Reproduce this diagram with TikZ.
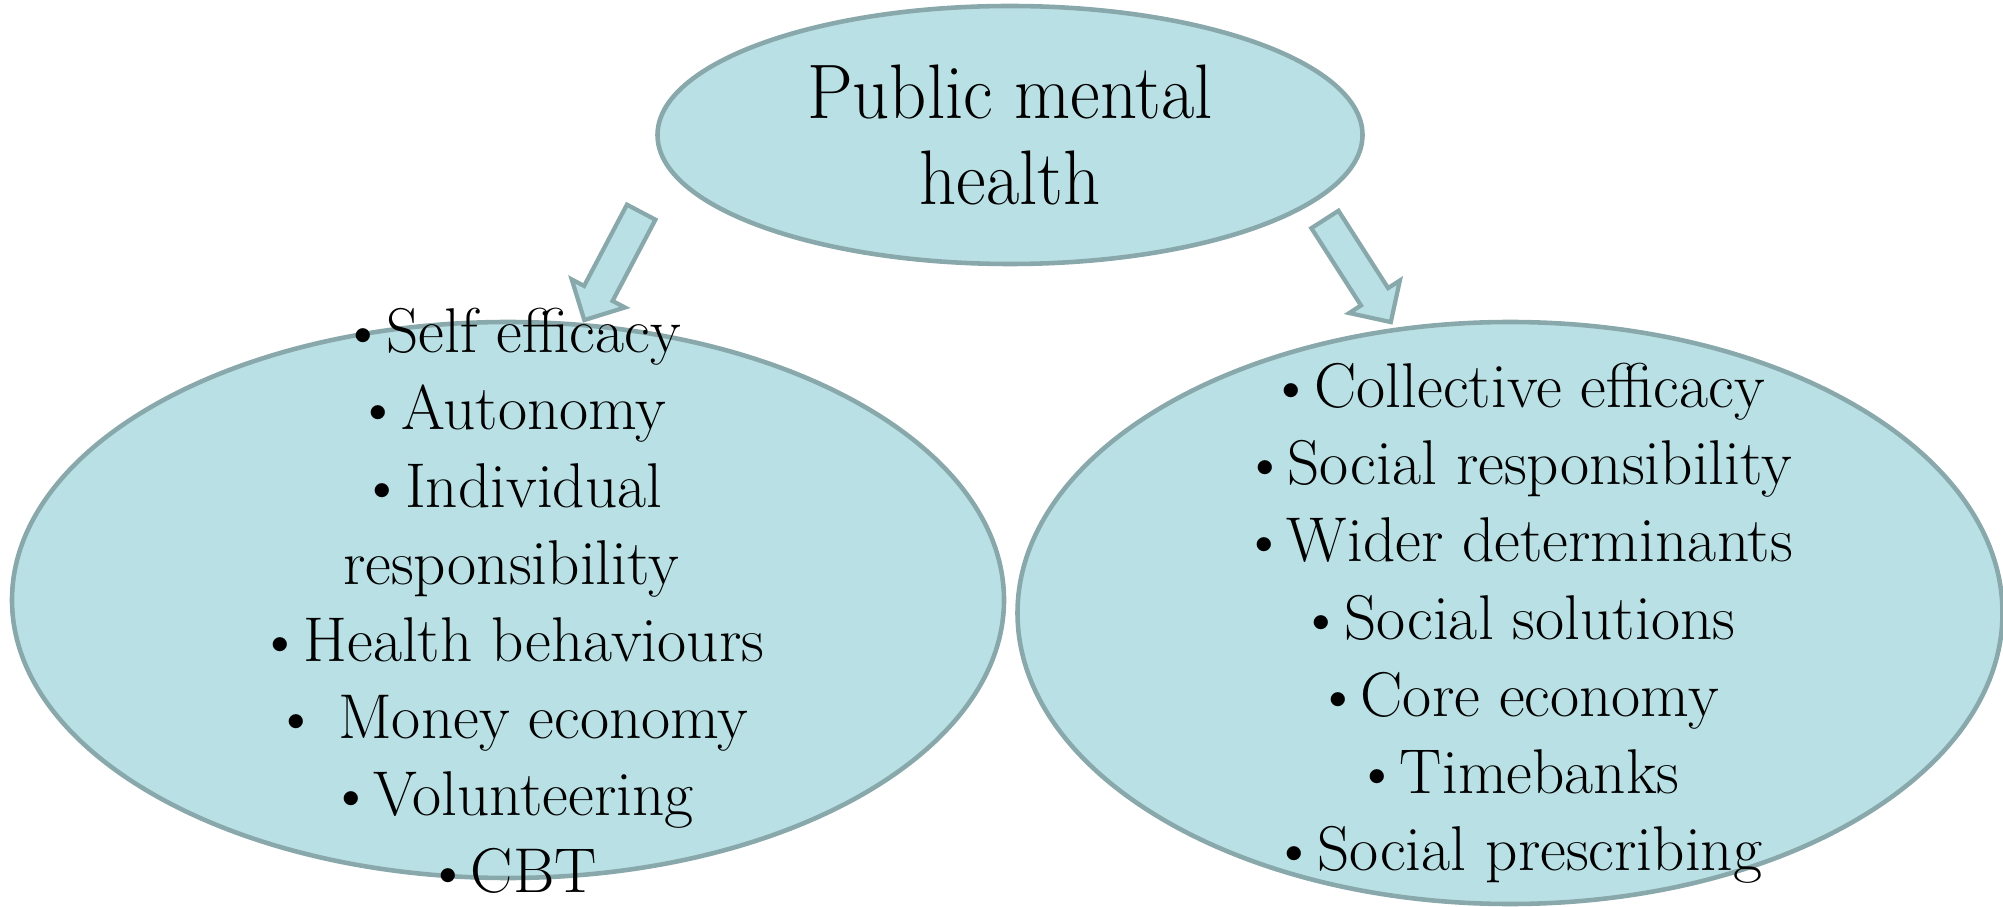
\documentclass[tikz,border=0pt]{standalone}
\usepackage{xcolor}
\usepackage{graphicx}
\usepackage{tikz}
\usetikzlibrary{shapes, shapes.arrows, positioning, calc}

\definecolor{bubblefill}{RGB}{185,224,228}
\definecolor{bubbleline}{RGB}{137,168,171}

\tikzset{
	bubble/.style={ellipse, draw=bubbleline, fill=bubblefill, line width=1.3pt, inner sep=0pt},
	pointer/.style={single arrow, draw=bubbleline, fill=bubblefill, line width=1.2pt, inner xsep=0pt,
		inner ysep=0.14cm, minimum width=0.56cm, single arrow head extend=0.14cm, minimum height=1.22cm},
	item/.style={anchor=base, inner sep=0pt, font=\fontsize{18}{22}\selectfont}
}
\newcommand{\squeeze}[1]{\scalebox{0.94}[1]{#1}}

\begin{document}
\begin{tikzpicture}
	\useasboundingbox (0,0) rectangle (20.03,9.06);
	
	%//the three bubbles
	\node [bubble, minimum width=7.05cm, minimum height=2.58cm, align=center,
		font=\fontsize{22}{24.4}\selectfont] (pmh) at (10.10,7.71) {\squeeze{Public mental}\\\squeeze{health}};
	\node [bubble, minimum width=9.92cm, minimum height=5.56cm] (indiv) at (5.08,3.06) {};
	\node [bubble, minimum width=9.85cm, minimum height=5.82cm] (social) at (15.10,2.93) {};
	
	%//arrows down from the top bubble
	\node [pointer, rotate=242.2] (arrL) at (6.165,6.47) {};
	\node [pointer, rotate=302.7] (arrR) at (13.535,6.42) {};
	
	%//left list
	\foreach \i/\val in {0/\textbullet Self efficacy, 1/\textbullet Autonomy, 2/\textbullet Individual,
		3/responsibility, 4/\textbullet Health behaviours, 5/\textbullet\ Money economy,
		6/\textbullet Volunteering, 7/\textbullet CBT}
	\node [item] (l\i) at (5.11, 5.53-0.77*\i) {\val};
	
	%//right list
	\foreach \i/\val in {0/\textbullet Collective efficacy, 1/\textbullet Social responsibility,
		2/\textbullet Wider determinants, 3/\textbullet Social solutions, 4/\textbullet Core economy,
		5/\textbullet Timebanks, 6/\textbullet Social prescribing}
	\node [item] (r\i) at (15.17, 4.98-0.77*\i) {\val};
	
\end{tikzpicture}
\end{document}
